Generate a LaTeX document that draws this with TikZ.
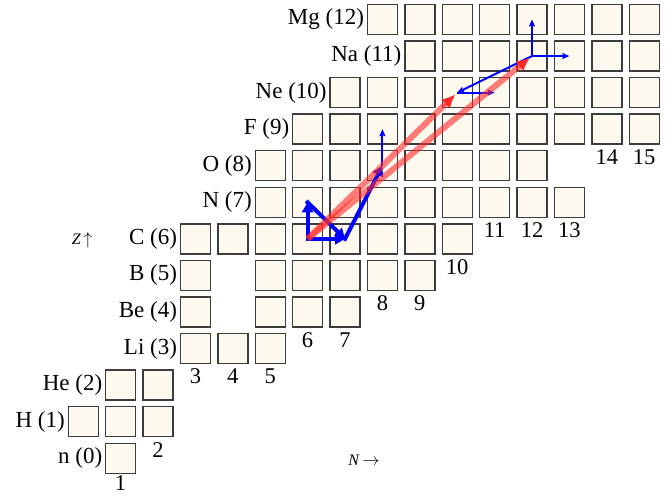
\documentclass[tikz,border=0pt]{standalone}
\usepackage{fontspec}
\setmainfont{Liberation Serif}
\usetikzlibrary{arrows.meta}
\definecolor{cellfill}{RGB}{253,249,238}
\definecolor{cellborder}{RGB}{60,60,60}
\definecolor{redarrow}{RGB}{255,40,40}
\begin{document}
\begin{tikzpicture}[x=1pt,y=-1pt,
  cell/.style={draw=cellborder, fill=cellfill, line width=1.4pt, minimum size=30pt, inner sep=0pt, rectangle},
  rowlab/.style={anchor=east, inner sep=2.5pt, font=\fontsize{23}{25}\selectfont},
  collab/.style={inner sep=0pt, font=\fontsize{22.5}{25}\selectfont},
  axislab/.style={inner sep=0pt, font=\fontsize{16}{18}\selectfont},
  thickb/.style={draw=blue, line width=4pt, line cap=rect, -{Triangle[length=10pt,width=11pt]}},
  thinb/.style={draw=blue, line width=2pt, -{Stealth[length=7pt,width=6pt,inset=1pt]}},
  redshaft/.style={draw=redarrow, line width=6pt, opacity=0.6, shorten >=12pt},
  redhead/.style={draw=redarrow, line width=1pt, shorten >=3pt, -{Latex[length=13pt,width=12pt]}}
]
\useasboundingbox (0,0) rectangle (672,496);

% cells
\foreach \z/\lst in {0/{1}, 1/{0,1,2}, 2/{1,2}, 3/{3,4,5}, 4/{3,5,6,7}, 5/{3,5,6,7,8,9},
  6/{3,4,5,6,7,8,9,10}, 7/{5,6,7,8,9,10,11,12,13}, 8/{5,6,7,8,9,10,11,12},
  9/{6,7,8,9,10,11,12,13,14,15}, 10/{7,8,9,10,11,12,13,14,15},
  11/{9,10,11,12,13,14,15}, 12/{8,9,10,11,12,13,14,15}}
  \foreach \n in \lst
    \node[cell] (c-\n-\z) at ({83.2+37.4*\n},{458.2-36.56*\z}) {};

% row labels
\foreach \z/\f/\nm in {0/1/n, 1/0/H, 2/1/He, 3/3/Li, 4/3/Be, 5/3/B, 6/3/C, 7/5/N, 8/5/O,
  9/6/F, 10/7/Ne, 11/9/Na, 12/8/Mg}
  \node[rowlab] (r-\z) at (c-\f-\z.west) {\nm{} (\z)};

% column labels
\foreach \n/\z in {2/1, 3/3, 4/3, 5/3, 6/4, 7/4, 8/5, 9/5, 10/6, 11/7, 12/7, 13/7, 14/9, 15/9}
  \node[collab] (l-\n) at ([yshift=-28pt]c-\n-\z.center) {\n};
\node[collab] (l-1) at ([yshift=-25pt]c-1-0.center) {1};

% axis labels
\node[axislab] (zlab) at (82,240) {\textit{Z}\,$\uparrow$};
\node[axislab] (nlab) at (364,460) {\textit{N}\,$\rightarrow$};

% blue reactions
\draw[thickb] (c-6-6.center) -- (c-6-7.center);
\draw[thickb] (c-6-7.center) -- (c-7-6.center);
\draw[thickb] (c-6-6.center) -- (c-7-6.center);
\draw[thickb] (c-7-6.center) -- (c-8-8.center);
\draw[thinb] (c-8-8.center) -- (c-8-9.center);
\draw[thinb] (c-12-11.center) -- (c-12-12.center);
\draw[thinb] (c-12-11.center) -- (c-13-11.center);
\draw[thinb] (c-12-11.center) -- (c-10-10.center);
\draw[thinb] (c-10-10.center) -- (c-11-10.center);

% red reactions
\path (c-6-6.center) -- (c-10-10.center) coordinate[pos=0.9] (h1);
\path (c-6-6.center) -- (c-12-11.center) coordinate[pos=0.93] (h2);
\draw[redshaft] (c-6-6.center) -- (c-10-10.center);
\draw[redshaft] (c-6-6.center) -- (c-12-11.center);
\draw[redhead] (h1) -- (c-10-10.center);
\draw[redhead] (h2) -- (c-12-11.center);
\end{tikzpicture}
\end{document}
